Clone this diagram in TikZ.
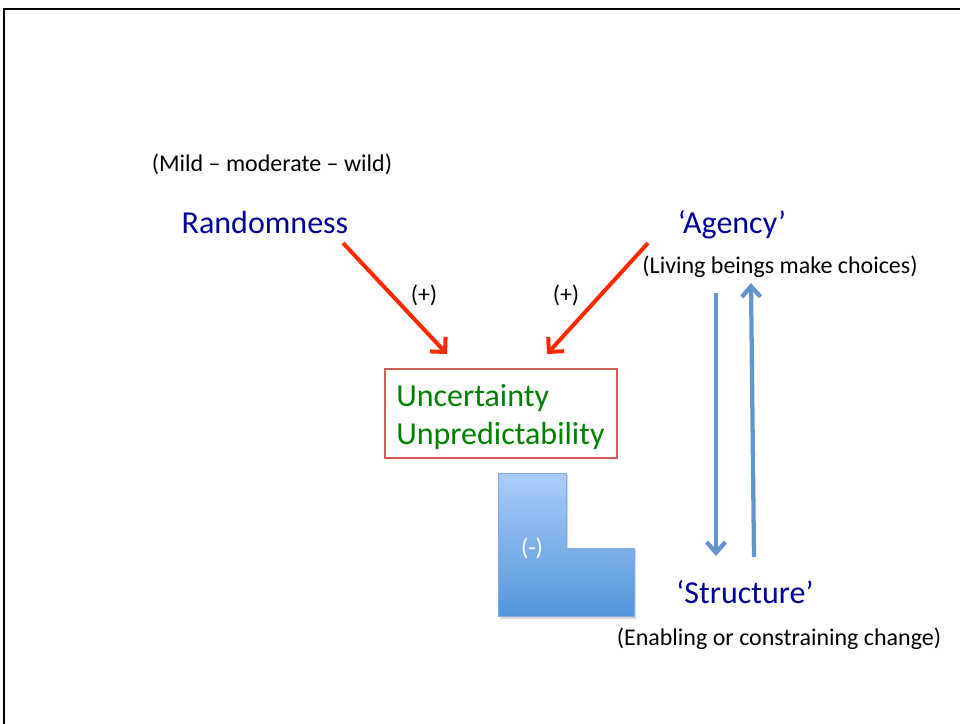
\documentclass[tikz,border=0pt]{standalone}
\usepackage{fontspec}
\setmainfont{Carlito}
\usetikzlibrary{arrows.meta}

\definecolor{titleblue}{RGB}{0,0,150}
\definecolor{textgreen}{RGB}{0,128,0}
\definecolor{arrowred}{RGB}{255,40,0}
\definecolor{boxred}{RGB}{205,95,88}
\definecolor{flowblue}{RGB}{98,148,205}
\definecolor{blocktop}{RGB}{170,205,250}
\definecolor{blockbottom}{RGB}{82,150,218}

\begin{document}
\begin{tikzpicture}[x=0.75pt,y=-0.75pt]
    \tikzstyle{big}=[font=\fontsize{24}{28.5}\selectfont, inner sep=0pt, anchor=base]
    \tikzstyle{title}=[big, text=titleblue]
    \tikzstyle{note}=[font=\fontsize{18}{22}\selectfont, inner sep=0pt, anchor=base]
    \tikzstyle{push}=[draw=arrowred, line width=3pt, -{Straight Barb[length=8pt,width=16pt]}]
    \tikzstyle{flow}=[draw=flowblue, line width=3.2pt, -{Straight Barb[length=8pt,width=14pt]}]
    \tikzstyle{outcome}=[draw=boxred, line width=1.5pt, big, anchor=north west, text=textgreen,
        align=left, text width=157pt, inner xsep=8.5pt, minimum height=66.5pt]

    \useasboundingbox (0,0) rectangle (960,724);

    % Frame of the slide
    \draw[line width=1.5pt] (4,724) -- (4,9) -- (960,9);

    % Draw the three forces
    \node[note] (mild) at (272,171) {(Mild -- moderate -- wild)};
    \node[title] (rand) at (265,233) {Randomness};
    \node[title] (agency) at (732,233) {‘Agency’};
    \node[note] (living) at (780,273) {(Living beings make choices)};
    \node[title] (struct) at (745,603) {‘Structure’};
    \node[note] (enabling) at (779,645) {(Enabling or constraining change)};

    % Draw the outcome box (the strut pushes the two lines down a little)
    \node[outcome] (uncert) at (384,368) {\rule{0pt}{21.5pt}Uncertainty\\Unpredictability};

    % Draw the damping block
    \fill[black, opacity=0.15] (500,475) -- (568,475) -- (568,550) -- (636,550)
        -- (636,619) -- (500,619) -- cycle;
    \shade[top color=blocktop, bottom color=blockbottom, draw=flowblue!80, line width=0.5pt]
        (498,473) -- (566,473) -- (566,548) -- (634,548) -- (634,616) -- (498,616) -- cycle;
    \node[note, text=white] (minus) at (532,555) {(-)};

    % Signs on the red arrows
    \foreach \name / \x in {1/424,2/566}
        \node[note] (plus-\name) at (\x,302) {(+)};

    % Arrow end points
    \coordinate (rand-out) at (343,243);
    \coordinate (rand-in) at (447,354);
    \coordinate (agency-out) at (648,243);
    \coordinate (agency-in) at (547,354);
    \coordinate (down-top) at (716,293);
    \coordinate (down-end) at (716,556);
    \coordinate (up-start) at (754,557);
    \coordinate (up-end) at (751,283);

    % Connect the forces with the outcome
    \draw[push] (rand-out) -- (rand-in);
    \draw[push] (agency-out) -- (agency-in);

    % Agency and structure act on each other
    \draw[flow] (down-top) -- (down-end);
    \draw[flow] (up-start) -- (up-end);
\end{tikzpicture}
\end{document}
